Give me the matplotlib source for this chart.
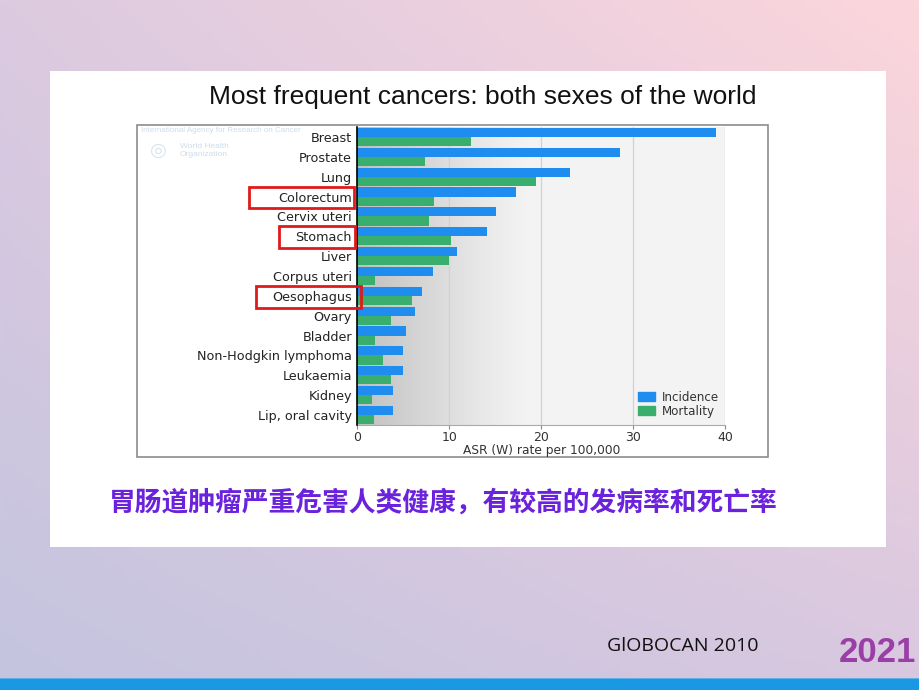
import numpy as np
import matplotlib
matplotlib.use("Agg")
import matplotlib.pyplot as plt
from matplotlib import font_manager
from matplotlib.patches import Rectangle, Patch
from matplotlib.colors import to_rgb

# ---------------- data ----------------
categories = ["Breast", "Prostate", "Lung", "Colorectum", "Cervix uteri", "Stomach",
              "Liver", "Corpus uteri", "Oesophagus", "Ovary", "Bladder",
              "Non-Hodgkin lymphoma", "Leukaemia", "Kidney", "Lip, oral cavity"]
incidence = [39.0, 28.6, 23.1, 17.2, 15.1, 14.1, 10.8, 8.2, 7.0, 6.3, 5.3, 5.0, 5.0, 3.9, 3.9]
mortality = [12.4, 7.4, 19.4, 8.3, 7.8, 10.2, 10.0, 1.9, 5.9, 3.7, 1.9, 2.8, 3.6, 1.6, 1.8]
xticks = [0, 10, 20, 30, 40]
highlighted = ["Colorectum", "Stomach", "Oesophagus"]
series_names = ["Incidence", "Mortality"]

title = "Most frequent cancers: both sexes of the world"
xlabel = "ASR (W) rate per 100,000"
caption_cn = "胃肠道肿瘤严重危害人类健康，有较高的发病率和死亡率"
source = "GlOBOCAN 2010"
year = "2021"

BLUE = "#1f8cef"
GREEN = "#3aae6c"


def pick(cands):
    for c in cands:
        try:
            font_manager.findfont(font_manager.FontProperties(family=c), fallback_to_default=False)
            return c
        except Exception:
            pass
    return "DejaVu Sans"


sans = pick(["Liberation Sans", "DejaVu Sans"])

W, H = 920, 690
fig = plt.figure(figsize=(W / 100, H / 100), dpi=100)


def fx(px):
    return px / W


def fy(py):
    return 1 - py / H


# ---------------- slide background ----------------
bg = fig.add_axes([0, 0, 1, 1], zorder=-10)
tl = np.array(to_rgb("#dccae0"))
tr = np.array(to_rgb("#fcd6dc"))
bl = np.array(to_rgb("#c4c4e0"))
br = np.array(to_rgb("#d8c8e0"))
u = np.linspace(0, 1, 200)[None, :, None]
v = np.linspace(0, 1, 150)[:, None, None]
img = (1 - v) * ((1 - u) * tl + u * tr) + v * ((1 - u) * bl + u * br)
bg.imshow(img, extent=[0, 1, 0, 1], aspect="auto", origin="upper")
bg.set_xlim(0, 1)
bg.set_ylim(0, 1)
bg.axis("off")

# bottom blue strip
fig.patches.append(Rectangle((0, 0), 1, fy(678), transform=fig.transFigure,
                             facecolor="#1a98e2", edgecolor="none", zorder=-5))
fig.patches.append(Rectangle((0, fy(679)), 1, fy(678) - fy(679), transform=fig.transFigure,
                             facecolor="#5db0ea", edgecolor="none", zorder=-5))

# white card
fig.patches.append(Rectangle((fx(50), fy(547)), fx(886) - fx(50), fy(71) - fy(547),
                             transform=fig.transFigure, facecolor="white",
                             edgecolor="none", zorder=-4))
# chart frame
fig.patches.append(Rectangle((fx(137), fy(457)), fx(768) - fx(137), fy(125) - fy(457),
                             transform=fig.transFigure, facecolor="white",
                             edgecolor="#8c8c8c", linewidth=1.2, zorder=-3))

# watermark
fig.text(fx(141), fy(130), "International Agency for Research on Cancer", fontsize=5.8,
         color="#cfdcea", family=sans, va="center", ha="left", zorder=-2)
fig.text(fx(180), fy(146), "World Health", fontsize=6, color="#cfdcea",
         family=sans, va="center", ha="left", zorder=-2)
fig.text(fx(180), fy(154), "Organization", fontsize=6, color="#cfdcea",
         family=sans, va="center", ha="left", zorder=-2)
fig.text(fx(158), fy(150), "◎", fontsize=14, color="#d8e3ee", family="DejaVu Sans",
         va="center", ha="center", zorder=-2)

# title
fig.text(fx(483), fy(97), title, fontsize=19, family=sans, ha="center", va="center",
         color="#111111")

# ---------------- main axes ----------------
ax = fig.add_axes([fx(357.5), fy(425), fx(725) - fx(357.5), fy(127) - fy(425)])
n = len(categories)
ax.set_xlim(0, 40)
ax.set_ylim(n - 0.5, -0.5)

# plot background gradient
xs = np.linspace(0, 40, 400)
g = 0.955 - (0.955 - 0.75) * (1 - np.clip(xs / 19.0, 0, 1)) ** 1.2
grad = np.repeat(g[None, :, None], 3, axis=2)
ax.imshow(grad, extent=[0, 40, n - 0.5, -0.5], aspect="auto", zorder=0)

for t in xticks[1:]:
    ax.axvline(t, color="#d2d2d2", lw=0.9, zorder=1)

y = np.arange(n)
h = 0.46
ax.barh(y - h / 2, incidence, height=h, color=BLUE, zorder=3, label=series_names[0])
ax.barh(y + h / 2, mortality, height=h, color=GREEN, zorder=3, label=series_names[1])

ax.set_yticks(y)
ax.set_yticklabels(categories, family="DejaVu Sans", fontsize=9.2, color="#222222")
ax.tick_params(axis="y", length=0, pad=4)
ax.set_xticks(xticks)
ax.set_xticklabels([str(t) for t in xticks], family="DejaVu Sans", fontsize=9,
                   color="#333333")
ax.tick_params(axis="x", length=3, color="#888888", pad=1)
ax.set_xlabel(xlabel, family="DejaVu Sans", fontsize=8.8, color="#333333", labelpad=0)

for s in ["top", "right"]:
    ax.spines[s].set_visible(False)
ax.spines["left"].set_color("black")
ax.spines["left"].set_linewidth(1.2)
ax.spines["left"].set_zorder(5)
ax.spines["bottom"].set_color("#aaaaaa")
ax.spines["bottom"].set_linewidth(0.8)

leg = ax.legend(handles=[Patch(color=BLUE, label=series_names[0]),
                         Patch(color=GREEN, label=series_names[1])],
                loc="lower right", bbox_to_anchor=(1.0, 0.005), frameon=False,
                prop={"family": "DejaVu Sans", "size": 8.6}, handlelength=1.4,
                handleheight=0.8, handletextpad=0.6, labelspacing=0.05, borderpad=0.0)
for t in leg.get_texts():
    t.set_color("#333333")

# red boxes around highlighted labels (x in axes coords, y in data)
box_x = {"Colorectum": (249, 354), "Stomach": (279, 355), "Oesophagus": (256, 361)}
trans = ax.get_yaxis_transform()
ax_left, ax_w = 357.5, 725 - 357.5
for name in highlighted:
    i = categories.index(name)
    x0, x1 = box_x[name]
    r = Rectangle(((x0 - ax_left) / ax_w, i - 0.5), (x1 - x0) / ax_w, 1.1,
                  transform=trans, fill=False, edgecolor="#e01a1a", linewidth=2,
                  clip_on=False, zorder=6)
    ax.add_patch(r)

# Chinese caption
fig.text(fx(443), fy(503), caption_cn, fontsize=19.3, fontweight="bold",
         family=["Noto Sans CJK SC", "DejaVu Sans"], color="#6a22dc",
         ha="center", va="center")

# source and year
fig.text(fx(607), fy(646), source, fontsize=14, family=pick(["Open Sans", "Liberation Sans"]),
         color="#111111", ha="left", va="center")
fig.text(fx(877), fy(652), year, fontsize=25, fontweight="bold",
         family=sans, color="#9a3fa6", ha="center", va="center")

fig.savefig("out.png", dpi=100)
